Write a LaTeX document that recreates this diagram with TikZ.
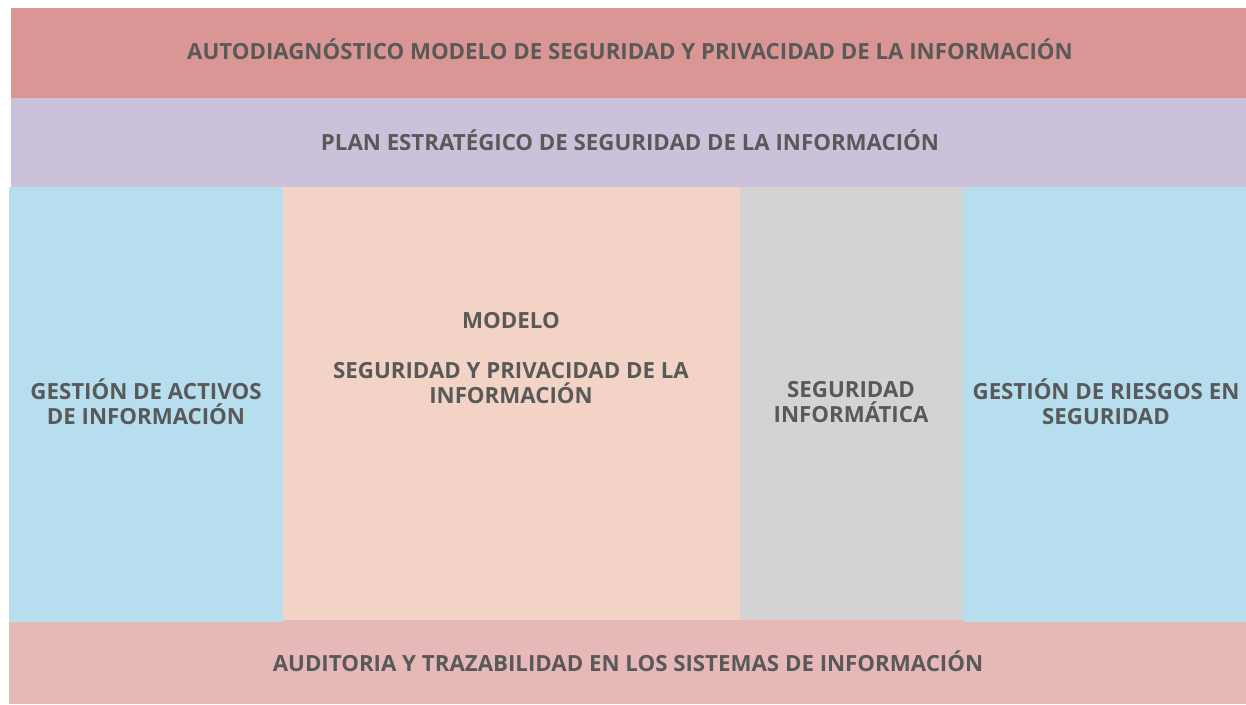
\documentclass[tikz,border=0pt]{standalone}
\usepackage{fontspec}
\setmainfont{Open Sans}
\definecolor{rojoband}{HTML}{D99694}
\definecolor{lilaband}{HTML}{CCC1DA}
\definecolor{azulcol}{HTML}{B6DEEE}
\definecolor{durazno}{HTML}{F3D3C5}
\definecolor{grisband}{HTML}{D3D3D3}
\definecolor{rosaband}{HTML}{E6B8B7}
\definecolor{textogris}{HTML}{595959}
\tikzset{
  etiqueta/.style={font=\fontsize{16.7}{18.75}\selectfont\bfseries, text=textogris, align=center, inner sep=0pt}
}

\begin{document}
\begin{tikzpicture}[x=0.75pt,y=-0.75pt]
\useasboundingbox (0,0) rectangle (1246,704);
% bandas horizontales
\fill[rojoband] (11,8) rectangle (1246,98);
\fill[lilaband] (11,98) rectangle (1246,187);
\fill[rosaband] (9,619.5) rectangle (1246,704);
% columnas
\fill[azulcol] (9,187) rectangle (283,622);
\fill[durazno] (283,187) rectangle (740,619.5);
\fill[grisband] (740,187) rectangle (963,619.5);
\fill[azulcol] (963,187) rectangle (1246,622);
% textos
\node[etiqueta] (autodiag) at (630,49) {AUTODIAGNÓSTICO MODELO DE SEGURIDAD Y PRIVACIDAD DE LA INFORMACIÓN};
\node[etiqueta] (plan) at (630,140) {PLAN ESTRATÉGICO DE SEGURIDAD DE LA INFORMACIÓN};
\node[etiqueta] (activos) at (146,402) {GESTIÓN DE ACTIVOS\\DE INFORMACIÓN};
\node[etiqueta] (modelo) at (511,321) {MODELO};
\node[etiqueta] (privacidad) at (511,383) {SEGURIDAD Y PRIVACIDAD DE LA\\INFORMACIÓN};
\node[etiqueta] (informatica) at (851,402) {SEGURIDAD\\INFORMÁTICA};
\node[etiqueta] (riesgos) at (1106,402) {GESTIÓN DE RIESGOS EN\\SEGURIDAD};
\node[etiqueta] (auditoria) at (628,661) {AUDITORIA Y TRAZABILIDAD EN LOS SISTEMAS DE INFORMACIÓN};
\end{tikzpicture}
\end{document}
